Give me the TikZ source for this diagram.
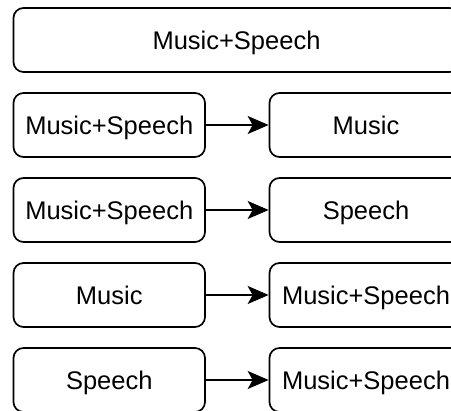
\documentclass[tikz,border=0pt]{standalone}
\usepackage{fontspec}
\setmainfont{Liberation Sans}
\usetikzlibrary{arrows.meta}
\tikzset{
  box/.style={draw=black,line width=1.7pt,rounded corners=10pt,fill=white,
    minimum height=64pt,inner sep=0pt,text height=18.3pt,text depth=0pt,
    font=\fontsize{25.5}{30}\selectfont},
  sbox/.style={box,minimum width=191.5pt},
  conn/.style={line width=1.7pt,->,>={Stealth[length=21pt,width=18pt,inset=5pt]}}
}
\begin{document}
\begin{tikzpicture}[x=1pt,y=-1pt]
\useasboundingbox (0,0) rectangle (451,411);
\clip (0,0) rectangle (451,411);
\node[box,minimum width=446pt] (top) at (236.5,40) {Music+Speech};
\node[sbox] (a1) at (109.25,125) {Music+Speech};
\node[sbox,minimum width=193pt] (b1) at (366,125) {Music};
\node[sbox] (a2) at (109.25,210) {Music+Speech};
\node[sbox,minimum width=193pt] (b2) at (366,210) {Speech};
\node[sbox] (a3) at (109.25,295) {Music};
\node[sbox,minimum width=193pt] (b3) at (366,295) {Music+Speech};
\node[sbox] (a4) at (109.25,380) {Speech};
\node[sbox,minimum width=193pt] (b4) at (366,380) {Music+Speech};
\draw[conn] (a1) -- (b1);
\draw[conn] (a2) -- (b2);
\draw[conn] (a3) -- (b3);
\draw[conn] (a4) -- (b4);
\end{tikzpicture}
\end{document}
